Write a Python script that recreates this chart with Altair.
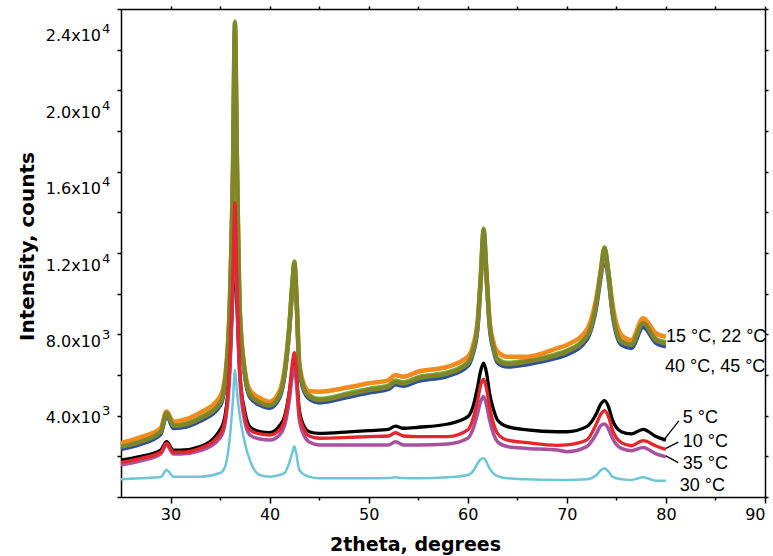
import altair as alt
import pandas as pd

# ---------------- data ----------------
two_theta = [25, 27, 29, 29.6, 30.3, 31, 33, 35, 35.5, 36, 36.3, 36.5, 36.7, 37, 37.5, 38, 39, 40,
             41, 41.5, 42, 42.3, 42.5, 42.7, 43, 43.5, 44, 45, 48, 50, 52, 52.7, 53.5, 55, 58, 60,
             60.5, 61, 61.3, 61.6, 61.9, 62.2, 62.6, 63, 64, 66, 69, 70, 72, 73, 73.4, 73.8, 74.2,
             74.6, 75.5, 76.5, 77.7, 79, 80]

blue_curve = [2350, 2600, 3080, 4000, 3380, 3400, 3740, 4480, 5500, 9400, 15500, 22500, 16000, 8700,
              5950, 4920, 4520, 4370, 4870, 5900, 8200, 10200, 11100, 9700, 6250, 5170, 4820, 4640,
              4920, 5130, 5300, 5530, 5460, 5700, 5950, 6440, 7000, 8300, 10400, 12600, 10600, 8350,
              7200, 6600, 6400, 6520, 6840, 7000, 7730, 9400, 10700, 11700, 10700, 9000, 7480, 7320,
              8350, 7570, 7400]
green_curve = [2540, 2790, 3280, 4200, 3570, 3590, 3940, 4690, 5720, 9800, 16200, 23400, 16800, 9100,
               6170, 5120, 4720, 4570, 5070, 6120, 8500, 10600, 11600, 10100, 6470, 5370, 5020, 4840,
               5120, 5330, 5500, 5740, 5660, 5910, 6150, 6650, 7220, 8600, 10800, 13200, 11000, 8650,
               7420, 6810, 6610, 6730, 7050, 7220, 7950, 9700, 11100, 12300, 11100, 9300, 7710, 7550,
               8610, 7790, 7630]
orange_curve = [2656, 2950, 3390, 4200, 3700, 3750, 4150, 4930, 5900, 9850, 16000, 23000, 16500, 9050,
                6250, 5260, 4870, 4690, 5200, 6250, 8500, 10500, 11400, 10000, 6600, 5500, 5200, 5180,
                5400, 5590, 5750, 6000, 5920, 6160, 6410, 6900, 7400, 8700, 10700, 12800, 10800, 8700,
                7600, 7150, 6900, 6900, 7310, 7480, 8210, 9850, 11000, 12000, 11000, 9520, 7970, 7720,
                8790, 8050, 7880]
olive_curve = [2475, 2720, 3210, 4130, 3500, 3520, 3870, 4620, 5650, 9700, 16000, 23300, 16600, 9000,
               6100, 5050, 4650, 4500, 5000, 6050, 8400, 10500, 11550, 10000, 6400, 5300, 4950, 4770,
               5050, 5260, 5430, 5670, 5590, 5840, 6080, 6580, 7150, 8500, 10700, 13130, 10900, 8550,
               7350, 6740, 6540, 6660, 6980, 7150, 7880, 9600, 11000, 12230, 11000, 9200, 7640, 7480,
               8540, 7720, 7560]
cyan_30C = [870, 920, 980, 1330, 1000, 990, 1000, 1180, 1490, 3000, 4800, 6250, 5200, 3950, 2650, 1820,
            1080, 1000, 1080, 1180, 1700, 2200, 2490, 2100, 1330, 1100, 1000, 920, 920, 920, 930, 970,
            930, 920, 970, 1080, 1250, 1660, 1850, 1900, 1700, 1410, 1150, 1030, 920, 870, 840, 840,
            870, 1080, 1300, 1410, 1250, 1000, 870, 840, 970, 800, 800]
purple_35C = [1570, 1780, 2110, 2560, 2110, 2110, 2280, 2900, 3600, 6300, 10500, 13700, 10000, 5700,
              3700, 3050, 2850, 2800, 3050, 3500, 4800, 6000, 6410, 5600, 3800, 3000, 2700, 2560, 2560,
              2560, 2560, 2720, 2560, 2560, 2610, 2890, 3300, 4120, 4700, 4930, 4500, 3790, 3100, 2720,
              2480, 2390, 2310, 2230, 2480, 3130, 3500, 3590, 3350, 2890, 2390, 2280, 2440, 2120, 1980]
red_10C = [1700, 1900, 2200, 2650, 2200, 2200, 2400, 3100, 3800, 6800, 11000, 14460, 10500, 6200, 4000,
           3300, 3100, 3050, 3300, 3800, 5200, 6600, 7100, 6200, 4100, 3300, 3000, 2890, 2930, 2970,
           3000, 3160, 3000, 2970, 2970, 3300, 3800, 4770, 5500, 5790, 5300, 4440, 3600, 3130, 2800,
           2670, 2540, 2560, 2800, 3620, 4050, 4250, 3950, 3300, 2670, 2520, 2770, 2510, 2340]
black_5C = [1820, 2000, 2310, 2720, 2300, 2300, 2480, 3300, 4000, 6500, 10000, 12800, 9500, 6000, 4200,
            3460, 3210, 3160, 3500, 3950, 5200, 6300, 6820, 6000, 4280, 3460, 3210, 3130, 3200, 3260,
            3330, 3490, 3380, 3430, 3590, 3950, 4400, 5430, 6200, 6580, 6100, 5100, 4300, 3790, 3460,
            3300, 3210, 3210, 3460, 4120, 4550, 4740, 4450, 3790, 3210, 3100, 3330, 2970, 2800]

# y tick labels (positions as they sit in the picture)
ylab_main = ["4.0x10", "8.0x10", "1.2x10", "1.6x10", "2.0x10", "2.4x10"]
ylab_exp = ["3", "3", "4", "4", "4", "4"]
ylab_pos = [3910, 7670, 11410, 15180, 18950, 22720]

# x / y ticks
x_ticks = [30, 35, 40, 45, 50, 55, 60, 65, 70, 75, 80, 85, 90]
y_ticks = list(range(0, 24001, 2000))

# curve annotations
ann_text = ["15 °C, 22 °C", "40 °C, 45 °C", "5 °C", "10 °C", "35 °C", "30 °C"]
ann_x = [80.0, 79.9, 81.7, 81.7, 81.7, 81.4]
ann_y = [7920, 6440, 3950, 2750, 1660, 590]

# leader lines
lead_x1 = [79.7, 80.0, 80.0]
lead_x2 = [81.3, 81.25, 81.25]
lead_y1 = [2750, 2390, 2020]
lead_y2 = [3740, 2700, 1690]

# ---------------- chart ----------------
FONT = "DejaVu Sans"
xscale = alt.Scale(domain=[25, 90], nice=False, zero=False)
yscale = alt.Scale(domain=[0, 24000], nice=False, zero=False)

axis_common = dict(domainColor="black", domainWidth=1.5, tickColor="black", tickWidth=1.5,
                   grid=False)

x_bottom = alt.Axis(orient="bottom", values=x_ticks,
                    labelExpr="datum.value % 10 == 0 ? datum.label : ''",
                    tickSize={"condition": {"test": "datum.value % 10 == 0", "value": 6}, "value": 3},
                    labelFont=FONT, labelFontSize=16, labelColor="black", labelPadding=3,
                    title="2theta, degrees", titleFont=FONT, titleFontSize=19,
                    titleFontWeight="bold", titleColor="black", titleX=294, titleY=53,
                    titleBaseline="alphabetic", titleAlign="center", **axis_common)
y_left = alt.Axis(orient="left", values=y_ticks, labels=False, tickSize=4,
                  title="Intensity, counts", titleFont=FONT, titleFontSize=20,
                  titleFontWeight="bold", titleColor="black", titleAngle=270,
                  titleX=-88, titleY=237, titleBaseline="alphabetic", titleAlign="center",
                  **axis_common)
x_top = alt.Axis(orient="top", values=x_ticks, labels=False, tickSize=3, title=None, **axis_common)
y_right = alt.Axis(orient="right", values=y_ticks, labels=False, tickSize=3, title=None,
                   **axis_common)

series = [
    ("blue", blue_curve, "#2C4F9E", 4.0),
    ("green", green_curve, "#76B843", 4.0),
    ("orange", orange_curve, "#F28A1E", 4.5),
    ("olive", olive_curve, "#7E8629", 4.5),
    ("cyan", cyan_30C, "#6CC6D8", 2.5),
    ("black", black_5C, "#000000", 3.3),
    ("purple", purple_35C, "#A8519F", 3.5),
    ("red", red_10C, "#E5262B", 3.3),
]

layers = []
for i, (name, vals, col, sw) in enumerate(series):
    df = pd.DataFrame({"theta": two_theta, "intensity": vals})
    if i == 0:
        xe = alt.X("theta:Q", scale=xscale, axis=x_bottom)
        ye = alt.Y("intensity:Q", scale=yscale, axis=y_left)
    else:
        xe = alt.X("theta:Q", scale=xscale, axis=None)
        ye = alt.Y("intensity:Q", scale=yscale, axis=None)
    layers.append(alt.Chart(df).mark_line(color=col, strokeWidth=sw, interpolate="monotone")
                  .encode(x=xe, y=ye))

lead_df = pd.DataFrame({"x1": lead_x1, "x2": lead_x2, "y1": lead_y1, "y2": lead_y2})
leaders = alt.Chart(lead_df).mark_rule(color="black", strokeWidth=1.3).encode(
    x=alt.X("x1:Q", scale=xscale, axis=x_top), x2="x2:Q",
    y=alt.Y("y1:Q", scale=yscale, axis=y_right), y2="y2:Q")

ann_df = pd.DataFrame({"t": ann_text, "x": ann_x, "y": ann_y})
annotations = alt.Chart(ann_df).mark_text(
    align="left", baseline="alphabetic", dy=6, font="Liberation Sans",
    fontSize=18, color="black").encode(
    x=alt.X("x:Q", scale=xscale, axis=None), y=alt.Y("y:Q", scale=yscale, axis=None), text="t:N")

ylab_df = pd.DataFrame({"main": ylab_main, "exp": ylab_exp, "pos": ylab_pos})
ylab_main_layer = alt.Chart(ylab_df).mark_text(
    align="right", baseline="alphabetic", dy=6, font=FONT, fontSize=16, color="black").encode(
    x=alt.value(-20), y=alt.Y("pos:Q", scale=yscale, axis=None), text="main:N")
ylab_exp_layer = alt.Chart(ylab_df).mark_text(
    align="left", baseline="alphabetic", dy=-2, font=FONT, fontSize=13, color="black").encode(
    x=alt.value(-19), y=alt.Y("pos:Q", scale=yscale, axis=None), text="exp:N")

chart = alt.layer(*layers, leaders, annotations, ylab_main_layer, ylab_exp_layer).properties(
    width=644, height=488,
    autosize=alt.AutoSizeParams(type="none"),
    padding={"left": 121, "top": 9, "right": 8, "bottom": 59},
    background="white",
).configure_view(stroke=None)

chart.save("out.html", embed_options={"renderer": "svg", "actions": False})
